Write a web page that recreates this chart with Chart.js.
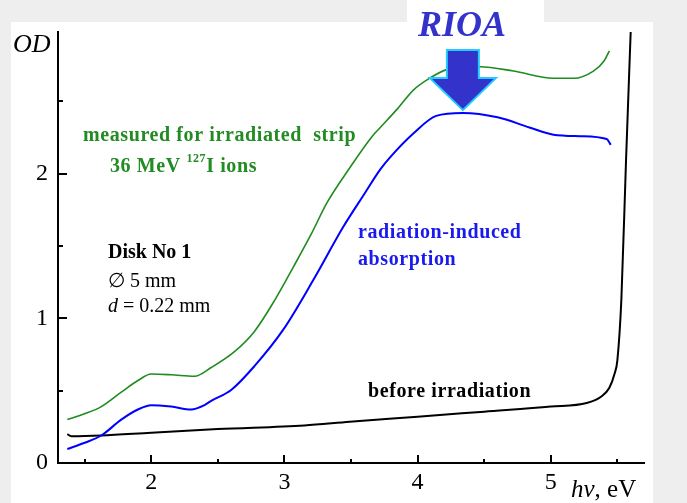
<!DOCTYPE html>
<html>
<head>
<meta charset="utf-8">
<script src="https://cdn.jsdelivr.net/npm/chart.js@4.4.1/dist/chart.umd.min.js"></script>
<style>
  body { margin: 0; background: #eeeeee; }
  #panel { position: absolute; left: 11px; top: 22px; width: 642px; height: 481px; background: #fff; }
  #tab { position: absolute; left: 407px; top: 0; width: 137px; height: 22px; background: #fff; }
  #myChart { position: absolute; left: 0; top: 0; }
</style>
</head>
<body>
<div id="panel"></div>
<div id="tab"></div>
<canvas id="myChart" width="687" height="503"></canvas>
<script>
// photon energy (eV) and optical density
const greenEV = [1.37, 1.50, 1.625, 1.775, 1.90, 2.00, 2.15, 2.325, 2.45, 2.625, 2.775, 2.93, 3.07, 3.20, 3.32, 3.49, 3.66, 3.72, 3.85, 3.97, 4.09, 4.22, 4.47, 4.72, 5.02, 5.17, 5.32, 5.40, 5.44]
const greenOD = [0.30, 0.34, 0.39, 0.49, 0.57, 0.615, 0.61, 0.60, 0.66, 0.77, 0.91, 1.13, 1.36, 1.58, 1.80, 2.04, 2.26, 2.32, 2.45, 2.58, 2.66, 2.72, 2.74, 2.71, 2.66, 2.66, 2.71, 2.78, 2.85]

const blueEV = [1.37, 1.50, 1.625, 1.775, 1.90, 2.00, 2.15, 2.30, 2.40, 2.45, 2.60, 2.775, 2.99, 3.22, 3.44, 3.60, 3.72, 3.79, 3.97, 4.14, 4.34, 4.60, 4.84, 5.02, 5.22, 5.42, 5.45]
const blueOD = [0.097, 0.14, 0.19, 0.30, 0.37, 0.40, 0.39, 0.37, 0.40, 0.43, 0.505, 0.67, 0.92, 1.27, 1.63, 1.86, 2.03, 2.11, 2.28, 2.40, 2.42, 2.39, 2.32, 2.27, 2.26, 2.24, 2.20]

const blackEV = [1.37, 1.40, 1.625, 2.0, 2.5, 3.15, 3.49, 4.0, 4.5, 5.0, 5.27, 5.38, 5.44, 5.48, 5.50, 5.53, 5.565, 5.60]
const blackOD = [0.20, 0.185, 0.19, 0.21, 0.235, 0.26, 0.286, 0.32, 0.355, 0.39, 0.415, 0.46, 0.52, 0.62, 0.71, 1.13, 2.09, 2.98]

const xTickVals = [1.5, 2, 2.5, 3, 3.5, 4, 4.5, 5, 5.5]
const yTickVals = [0, 0.5, 1, 1.5, 2, 2.5]

// where the RIOA arrow points (top of the blue curve)
const rioaPeak = {x: 4.34, y: 2.44}

function pairs(xs, ys){
    return xs.map((v, i) => ({x: v, y: ys[i]}))
}

const serif = '"Liberation Serif", "Times New Roman", serif'

const decor = {
  id: 'decor',
  afterDraw(chart){
    const c = chart.ctx
    const xs = chart.scales.x
    const ys = chart.scales.y
    const area = chart.chartArea
    c.save()
    // inward tick marks
    c.strokeStyle = '#000'
    c.lineWidth = 2
    xTickVals.forEach(v => {
        const px = Math.round(xs.getPixelForValue(v))
        const len = Number.isInteger(v) ? 8 : 4
        c.beginPath(); c.moveTo(px, area.bottom); c.lineTo(px, area.bottom - len); c.stroke()
    })
    yTickVals.forEach(v => {
        if (v === 0) return
        const py = Math.round(ys.getPixelForValue(v))
        const len = Number.isInteger(v) ? 9 : 5
        c.beginPath(); c.moveTo(area.left, py); c.lineTo(area.left + len, py); c.stroke()
    })

    // axis titles
    c.fillStyle = '#000'
    c.textBaseline = 'alphabetic'
    c.font = 'italic 26px ' + serif
    c.fillText('OD', 13, 52)
    c.font = 'italic 25px ' + serif
    c.fillText('h\u03BD', 571, 497)
    let w = c.measureText('h\u03BD').width
    c.font = '25px ' + serif
    c.fillText(', eV', 571 + w, 497)

    // green notes
    c.fillStyle = '#228b22'
    c.font = 'bold 20px ' + serif
    c.letterSpacing = '0.6px'
    c.fillText('measured for irradiated  strip', 83, 141)
    c.fillText('36 MeV ', 110, 172)
    w = c.measureText('36 MeV ').width
    c.font = 'bold 12px ' + serif
    c.fillText('127', 110 + w, 162)
    const w2 = c.measureText('127').width
    c.font = 'bold 20px ' + serif
    c.fillText('I ions', 110 + w + w2, 172)

    // blue notes
    c.fillStyle = '#1a1aee'
    c.fillText('radiation-induced', 358, 238)
    c.fillText('absorption', 358, 265)

    // black notes
    c.fillStyle = '#000'
    c.fillText('before irradiation', 368, 397)
    c.letterSpacing = '0px'
    c.font = 'bold 20px ' + serif
    c.fillText('Disk No 1', 108, 258)
    c.font = '20px ' + serif
    c.fillText('\u2205 5 mm', 108, 287)
    c.font = 'italic 20px ' + serif
    c.fillText('d', 108, 312)
    w = c.measureText('d').width
    c.font = '20px ' + serif
    c.fillText(' = 0.22 mm', 108 + w, 312)

    // RIOA label and arrow
    c.fillStyle = '#3333cc'
    c.font = 'italic bold 36px ' + serif
    c.fillText('RIOA', 418, 36)
    const tx = xs.getPixelForValue(rioaPeak.x)
    const ty = ys.getPixelForValue(rioaPeak.y)
    c.beginPath()
    c.moveTo(tx, ty)
    c.lineTo(tx - 33, ty - 32)
    c.lineTo(tx - 16, ty - 32)
    c.lineTo(tx - 16, ty - 60)
    c.lineTo(tx + 16, ty - 60)
    c.lineTo(tx + 16, ty - 32)
    c.lineTo(tx + 33, ty - 32)
    c.closePath()
    c.fillStyle = '#3333cc'
    c.fill()
    c.strokeStyle = '#22ccff'
    c.lineWidth = 2
    c.lineJoin = 'miter'
    c.stroke()
    c.restore()
  }
}

const data = {
  datasets: [
    {
      label: 'measured for irradiated strip',
      data: pairs(greenEV, greenOD),
      borderColor: '#1e8c1e',
      borderWidth: 1.6
    },
    {
      label: 'radiation-induced absorption',
      data: pairs(blueEV, blueOD),
      borderColor: '#0000ff',
      borderWidth: 2
    },
    {
      label: 'before irradiation',
      data: pairs(blackEV, blackOD),
      borderColor: '#000',
      borderWidth: 2
    }
  ]
}
data.datasets.forEach(ds => {
    ds.showLine = true
    ds.pointRadius = 0
    ds.cubicInterpolationMode = 'monotone'
    ds.clip = false
})

const ctx = document.getElementById('myChart').getContext('2d')
const myChart = new Chart(ctx, {
  type: 'scatter',
  data: data,
  options: {
    responsive: false,
    animation: false,
    devicePixelRatio: 1,
    layout: { padding: { top: 32, right: 43, left: 0, bottom: 0 } },
    plugins: { legend: { display: false }, tooltip: { enabled: false } },
    scales: {
      x: {
        type: 'linear',
        min: 1.3,
        max: 5.7,
        afterFit: s => { s.height = 40 },
        afterBuildTicks: s => { s.ticks = xTickVals.map(v => ({value: v})) },
        grid: { display: false, drawTicks: false },
        border: { display: true, color: '#000', width: 2 },
        ticks: {
          autoSkip: false,
          maxRotation: 0,
          padding: 5,
          color: '#000',
          font: { family: serif, size: 24 },
          callback: v => Number.isInteger(v) ? String(v) : ''
        }
      },
      y: {
        min: 0,
        max: 2.98,
        afterFit: s => { s.width = 58 },
        afterBuildTicks: s => { s.ticks = yTickVals.map(v => ({value: v})) },
        grid: { display: false, drawTicks: false },
        border: { display: true, color: '#000', width: 2 },
        ticks: {
          autoSkip: false,
          padding: 10,
          color: '#000',
          font: { family: serif, size: 24 },
          callback: v => Number.isInteger(v) ? String(v) : ''
        }
      }
    }
  },
  plugins: [decor]
})
</script>
</body>
</html>
